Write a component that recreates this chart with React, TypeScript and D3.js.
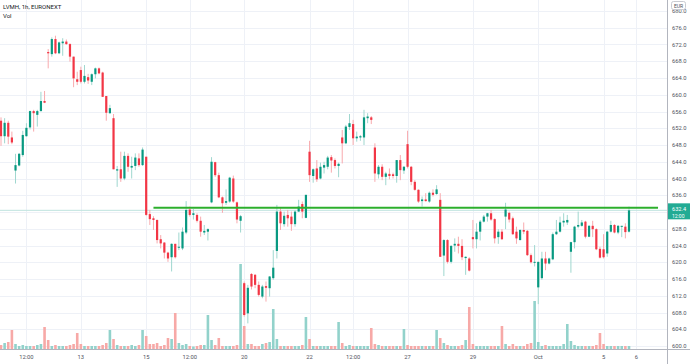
import React, { useLayoutEffect, useRef } from 'react';
import * as d3 from 'd3';

// LVMH 1h candles, 8 Sep 14:00 -> 5 Oct 16:00 (one entry per hour bar)
const opens = [
  653.8, 650.1, 653.3, 649.8, 641.9, 643.1, 645.6, 650.1, 652.2, 656.1, 655.2, 656.1, 658.5,
  670.2, 669.7, 673.3, 669.9, 672.3, 672.7, 672.1, 669.1, 663.7,
  665.9, 663.1, 664.2, 663.1, 664.9, 666.3, 665.3, 659.7, 655.6,
  654.4, 641.9, 642.2, 640.0, 645.4, 642.6, 643.0, 644.8, 643.2,
  645.2, 631.5, 630.5, 630.1, 625.5, 624.7, 622.3, 621.2, 624.4,
  623.5, 623.3, 627.1, 632.6, 631.3, 631.3, 629.9, 627.1, 627.3,
  634.3, 643.9, 640.8, 635.5, 634.2, 634.5, 640.0, 634.3, 629.9,
  615.0, 607.8, 617.2, 617.0, 614.6, 611.8, 614.3, 613.8, 616.2,
  622.7, 632.1, 629.1, 631.3, 630.9, 629.1, 632.1, 633.9, 630.6,
  646.4, 640.6, 642.4, 640.0, 642.6, 642.8, 645.1, 644.4, 643.0,
  649.8, 648.4, 652.3, 653.0, 649.6, 649.8, 649.8, 654.4, 654.6,
  647.4, 641.0, 642.8, 640.4, 641.1, 641.0, 640.6, 644.4, 641.9,
  648.2, 642.8, 639.2, 637.3, 634.6, 635.0, 634.5, 636.6, 636.3,
  634.9, 621.6, 625.3, 620.1, 624.0, 624.4, 623.9, 621.0, 620.9,
  626.0, 625.5, 627.3, 629.7, 630.9, 631.7, 630.3, 626.0, 627.3,
  630.9, 631.8, 630.5, 627.3, 625.3, 627.7, 627.5, 621.7, 619.9,
  614.0, 616.2, 620.9, 619.7, 620.7, 626.7, 627.3, 629.5, 629.5,
  622.5, 624.8, 628.5, 628.7, 629.7, 626.1, 628.7, 627.9, 623.2,
  623.1, 622.1, 627.3, 628.9, 627.1, 628.6, 628.5, 627.3,
];
const highs = [
  654.6, 654.4, 653.8, 651.2, 645.9, 646.1, 651.4, 653.2, 656.2, 656.4, 656.4, 660.7, 660.9,
  670.9, 673.7, 674.1, 672.7, 673.5, 673.2, 672.3, 669.1, 665.5,
  666.7, 667.1, 665.0, 665.1, 666.5, 666.5, 665.5, 659.7, 657.6,
  655.4, 643.0, 646.4, 646.4, 646.0, 645.2, 646.0, 646.0, 647.4,
  645.2, 632.5, 631.0, 630.2, 626.5, 624.8, 622.5, 624.5, 624.4,
  627.1, 628.3, 634.6, 633.3, 632.7, 631.7, 630.9, 628.9, 628.1,
  645.1, 644.0, 641.4, 635.7, 637.4, 640.4, 640.7, 634.5, 631.3,
  615.4, 614.6, 617.4, 617.2, 615.4, 614.6, 615.4, 616.7, 622.9,
  633.7, 632.9, 632.1, 632.5, 632.1, 632.5, 634.9, 634.5, 636.1,
  649.0, 642.4, 644.4, 643.8, 644.0, 645.4, 645.6, 644.8, 643.8,
  651.6, 652.8, 655.4, 654.0, 651.2, 650.4, 656.4, 655.6, 654.9,
  648.4, 643.2, 643.4, 641.6, 642.4, 641.4, 644.4, 645.6, 643.0,
  651.4, 643.0, 639.6, 637.4, 635.7, 636.5, 636.9, 637.4, 638.4,
  636.5, 625.5, 625.5, 624.1, 625.7, 626.1, 625.5, 621.4, 621.2,
  630.1, 629.3, 630.1, 631.3, 631.8, 632.5, 630.5, 627.9, 627.9,
  634.2, 632.1, 630.9, 628.5, 627.9, 629.5, 627.7, 622.1, 624.1,
  620.1, 622.5, 622.5, 621.1, 627.1, 630.1, 630.9, 631.7, 631.3,
  624.9, 628.7, 632.1, 630.1, 629.9, 628.9, 629.9, 628.1, 623.7,
  626.7, 627.5, 629.9, 629.1, 628.9, 628.7, 629.3, 633.3,
];
const lows = [
  647.8, 648.4, 648.2, 648.2, 638.8, 642.9, 645.2, 650.0, 651.7, 651.2, 652.4, 656.0, 658.0,
  666.3, 669.1, 669.7, 669.7, 669.3, 671.9, 667.9, 661.8, 662.3,
  662.7, 662.7, 662.6, 662.3, 663.9, 664.9, 659.5, 653.8, 655.4,
  642.2, 638.0, 639.2, 639.6, 641.6, 640.0, 642.0, 642.8, 643.0,
  631.1, 628.9, 627.7, 624.5, 623.3, 620.9, 620.1, 617.8, 620.9,
  622.9, 622.9, 626.7, 630.9, 630.2, 629.5, 626.1, 626.5, 625.2,
  634.1, 640.4, 635.3, 631.8, 633.7, 634.2, 634.2, 629.3, 627.1,
  607.0, 605.4, 613.5, 613.8, 611.8, 611.4, 610.6, 611.8, 615.8,
  620.9, 627.7, 628.5, 628.5, 627.5, 628.5, 632.1, 630.5, 630.5,
  639.2, 639.0, 639.2, 639.8, 641.2, 642.2, 641.4, 642.4, 640.3,
  643.6, 648.2, 651.6, 648.0, 648.8, 649.0, 648.0, 653.2, 653.0,
  639.2, 640.0, 639.6, 638.4, 639.8, 640.0, 639.0, 639.6, 641.1,
  642.4, 638.4, 637.1, 634.2, 633.3, 634.5, 634.2, 635.7, 636.1,
  621.3, 616.7, 619.7, 619.7, 622.5, 622.1, 620.5, 617.0, 617.8,
  623.3, 623.3, 625.2, 629.5, 629.7, 629.9, 624.5, 624.4, 625.3,
  627.9, 629.5, 626.5, 624.4, 625.2, 626.7, 621.5, 619.7, 619.0,
  610.0, 615.8, 618.1, 619.5, 620.5, 626.5, 627.1, 628.5, 628.9,
  617.5, 623.3, 628.1, 628.5, 625.7, 626.0, 626.0, 622.9, 620.9,
  620.9, 621.3, 627.1, 626.9, 626.7, 626.0, 625.7, 627.1,
];
const closes = [
  650.1, 653.3, 650.0, 648.6, 643.2, 645.9, 650.4, 652.1, 656.1, 655.6, 656.1, 658.5, 658.1,
  669.9, 673.3, 669.9, 672.5, 672.7, 672.1, 669.1, 663.9, 663.1,
  663.1, 664.5, 663.4, 664.9, 666.3, 665.1, 659.5, 655.7, 656.8,
  642.2, 642.2, 640.0, 645.4, 642.8, 643.0, 645.0, 643.2, 646.9,
  631.3, 630.3, 630.1, 625.3, 624.5, 622.3, 620.9, 624.4, 621.2,
  623.7, 627.3, 632.5, 631.3, 631.7, 629.9, 627.3, 627.5, 627.9,
  644.0, 640.8, 635.5, 634.1, 634.6, 640.2, 634.5, 630.2, 631.0,
  607.4, 613.9, 614.2, 614.6, 612.2, 614.2, 613.9, 616.6, 618.7,
  632.1, 629.3, 631.1, 630.5, 629.1, 632.1, 633.3, 632.1, 636.1,
  640.8, 642.2, 639.8, 642.8, 643.2, 645.0, 644.3, 643.0, 643.5,
  648.4, 652.4, 653.2, 649.6, 650.0, 650.1, 654.6, 654.8, 654.0,
  641.2, 642.8, 640.4, 641.2, 640.6, 640.6, 644.4, 642.0, 642.8,
  642.8, 639.2, 637.3, 634.5, 635.0, 634.6, 636.6, 636.1, 637.4,
  621.3, 625.3, 620.1, 623.9, 624.4, 623.9, 621.2, 621.3, 618.0,
  625.5, 627.3, 629.7, 630.9, 631.7, 630.2, 625.7, 627.3, 625.5,
  632.6, 630.2, 626.7, 625.7, 627.7, 627.3, 621.7, 620.0, 620.1,
  620.1, 620.9, 619.7, 620.9, 626.7, 627.3, 629.5, 629.9, 630.1,
  624.8, 628.5, 628.9, 629.5, 626.1, 628.7, 627.9, 623.1, 621.1,
  621.2, 627.3, 628.9, 627.1, 628.7, 628.7, 627.2, 632.4,
];
// volume, thousands of shares
const volumes = [
  40, 60, 70, 190, 50, 30, 40, 30, 30, 30, 40, 50, 220,
  90, 30, 40, 30, 30, 30, 40, 50, 160,
  50, 30, 30, 30, 30, 30, 40, 60, 190,
  100, 40, 30, 30, 30, 40, 30, 40, 190,
  130, 50, 50, 60, 30, 40, 110, 100, 360,
  60, 40, 50, 30, 25, 30, 40, 40, 340,
  90, 40, 110, 30, 30, 30, 30, 40, 850,
  230, 50, 50, 30, 30, 50, 60, 70, 400,
  100, 30, 30, 30, 30, 30, 30, 40, 320,
  100, 30, 30, 30, 30, 30, 30, 30, 270,
  60, 30, 40, 30, 30, 30, 30, 30, 210,
  50, 40, 30, 30, 30, 30, 30, 30, 200,
  40, 30, 30, 30, 30, 30, 30, 30, 190,
  110, 60, 40, 30, 30, 30, 40, 90, 420,
  50, 30, 30, 30, 30, 30, 30, 30, 230,
  50, 30, 50, 30, 30, 30, 50, 60, 480,
  70, 30, 40, 30, 30, 30, 30, 50, 250,
  80, 40, 30, 30, 30, 30, 30, 40, 160,
  50, 30, 30, 30, 30, 30, 30, 30,
];

const tickIndex = [7, 22, 40, 52, 67, 85, 97, 112, 130, 148, 166, 175];
const tickLabels = ['12:00', '13', '15', '12:00', '20', '22', '12:00', '27', '29', 'Oct', '5', '6'];
const priceTicks = d3.range(600, 681, 4);
const levelPrice = 633;
const levelFrom = 42;
const levelTo = 181;
const lastPrice = 632.4;
const countdown = '12:00';

const up = '#089981';
const down = '#f23645';
const upPale = '#9fd7cf';
const downPale = '#f8aaae';
const upVol = '#92d2cb';
const downVol = '#f7a9a7';
const font = 'Roboto, "Liberation Sans", Arial, sans-serif';

const App = () => {
  const chartRef = useRef<SVGSVGElement>(null);

  useLayoutEffect(() => {
    const W = 690;
    const H = 364;
    const paneRight = 667;
    const paneBottom = 349;

    const svg = d3.select(chartRef.current);
    svg.selectAll('*').remove();
    svg.attr('width', W).attr('height', H);

    const x = d3.scaleLinear().domain([0, 173]).range([1, 629]);
    const y = d3.scaleLinear().domain([600, 680]).range([346, 11]);
    const yVol = d3.scaleLinear().domain([0, d3.max(volumes) as number]).range([paneBottom, 264]);
    const ly = y(lastPrice);

    svg.append('rect').attr('width', W).attr('height', H).attr('fill', '#ffffff');

    // grid
    const grid = svg.append('g');
    grid
      .selectAll('line.h')
      .data(priceTicks)
      .enter()
      .append('line')
      .attr('x1', 0)
      .attr('x2', paneRight)
      .attr('y1', (d) => Math.round(y(d)) + 0.5)
      .attr('y2', (d) => Math.round(y(d)) + 0.5)
      .attr('stroke', '#eef1f7');
    grid
      .selectAll('line.v')
      .data(tickIndex)
      .enter()
      .append('line')
      .attr('x1', (d) => Math.round(x(d)) + 0.5)
      .attr('x2', (d) => Math.round(x(d)) + 0.5)
      .attr('y1', 0)
      .attr('y2', paneBottom)
      .attr('stroke', '#eef1f7');

    const idx = d3.range(opens.length);

    // volume
    svg
      .append('g')
      .selectAll('rect')
      .data(idx)
      .enter()
      .append('rect')
      .attr('x', (i) => x(i) - 1.3)
      .attr('width', 2.6)
      .attr('y', (i) => yVol(volumes[i]))
      .attr('height', (i) => paneBottom - yVol(volumes[i]))
      .attr('fill', (i) => (closes[i] >= opens[i] ? upVol : downVol));

    // last price line
    svg
      .append('line')
      .attr('x1', 0)
      .attr('x2', paneRight)
      .attr('y1', ly)
      .attr('y2', ly)
      .attr('stroke', '#bfe3de')
      .attr('stroke-width', 1);

    // candles
    const candles = svg.append('g');
    candles
      .selectAll('line')
      .data(idx)
      .enter()
      .append('line')
      .attr('x1', (i) => x(i))
      .attr('x2', (i) => x(i))
      .attr('y1', (i) => y(highs[i]))
      .attr('y2', (i) => y(lows[i]))
      .attr('stroke', (i) => (closes[i] >= opens[i] ? upPale : downPale))
      .attr('stroke-width', 1);
    candles
      .selectAll('rect')
      .data(idx)
      .enter()
      .append('rect')
      .attr('x', (i) => x(i) - 1.1)
      .attr('width', 2.2)
      .attr('y', (i) => y(Math.max(opens[i], closes[i])))
      .attr('height', (i) => Math.max(1, Math.abs(y(opens[i]) - y(closes[i]))))
      .attr('fill', (i) => (closes[i] >= opens[i] ? up : down));

    // horizontal level
    svg
      .append('line')
      .attr('x1', x(levelFrom))
      .attr('x2', x(levelTo))
      .attr('y1', y(levelPrice))
      .attr('y2', y(levelPrice))
      .attr('stroke', '#2caf2c')
      .attr('stroke-width', 2);

    // axes frame
    svg
      .append('line')
      .attr('x1', paneRight + 0.5)
      .attr('x2', paneRight + 0.5)
      .attr('y1', 0)
      .attr('y2', H)
      .attr('stroke', '#b2b5be');
    svg
      .append('line')
      .attr('x1', 0)
      .attr('x2', W)
      .attr('y1', paneBottom + 0.5)
      .attr('y2', paneBottom + 0.5)
      .attr('stroke', '#b2b5be');

    // price axis labels (the one under the last-price badge is hidden)
    svg
      .append('g')
      .selectAll('text')
      .data(priceTicks.filter((d) => Math.abs(y(d) - ly) > 9))
      .enter()
      .append('text')
      .attr('x', 672)
      .attr('y', (d) => y(d))
      .attr('dy', '0.35em')
      .attr('font-family', font)
      .attr('font-size', 5.8)
      .attr('fill', '#50535e')
      .text((d) => d.toFixed(1));

    // time axis labels
    svg
      .append('g')
      .selectAll('text')
      .data(tickIndex)
      .enter()
      .append('text')
      .attr('x', (d) => x(d))
      .attr('y', 359)
      .attr('text-anchor', 'middle')
      .attr('font-family', font)
      .attr('font-size', 5.8)
      .attr('fill', '#50535e')
      .text((d, i) => tickLabels[i]);

    // currency badge
    svg
      .append('rect')
      .attr('x', 671.5)
      .attr('y', 1.5)
      .attr('width', 14)
      .attr('height', 8)
      .attr('rx', 2)
      .attr('fill', '#ffffff')
      .attr('stroke', '#c9cbd1');
    svg
      .append('text')
      .attr('x', 678.5)
      .attr('y', 7.8)
      .attr('text-anchor', 'middle')
      .attr('font-family', font)
      .attr('font-size', 5)
      .attr('fill', '#50535e')
      .text('EUR');

    // last price badge
    svg
      .append('rect')
      .attr('x', paneRight + 1)
      .attr('y', ly - 7)
      .attr('width', W - paneRight - 1)
      .attr('height', 16)
      .attr('fill', '#22ab94');
    svg
      .append('text')
      .attr('x', 672)
      .attr('y', ly + 0.5)
      .attr('font-family', font)
      .attr('font-size', 5.6)
      .attr('fill', '#ffffff')
      .text(lastPrice.toFixed(1));
    svg
      .append('text')
      .attr('x', 672)
      .attr('y', ly + 7.2)
      .attr('font-family', font)
      .attr('font-size', 5)
      .attr('fill', '#ffffff')
      .text(countdown);

    // legend
    svg
      .append('text')
      .attr('x', 3)
      .attr('y', 9)
      .attr('font-family', font)
      .attr('font-size', 6)
      .attr('fill', '#131722')
      .text('LVMH, 1h, EURONEXT');
    svg
      .append('text')
      .attr('x', 3)
      .attr('y', 18)
      .attr('font-family', font)
      .attr('font-size', 6)
      .attr('fill', '#131722')
      .text('Vol');
  }, []);

  return (
    <div style={{ position: 'fixed', left: 0, top: 0 }}>
      <svg ref={chartRef} style={{ display: 'block' }}></svg>
    </div>
  );
};

export default App;
